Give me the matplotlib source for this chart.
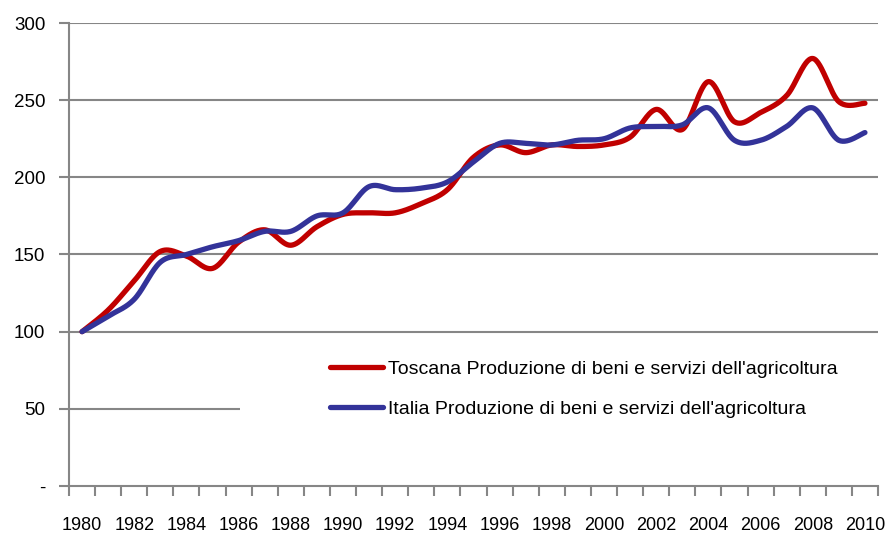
import numpy as np
import matplotlib
matplotlib.use("Agg")
import matplotlib.pyplot as plt
from matplotlib.patches import Rectangle
from matplotlib.ticker import FixedLocator, FixedFormatter

years = list(range(1980, 2011))
toscana = [100, 114, 133, 152, 149, 141, 158, 166, 156, 168, 176, 177, 177, 183, 192,
           213, 221, 216, 221, 220, 221, 226, 244, 231, 262, 236, 242, 253, 277, 249, 248]
italia = [100, 110, 121, 145, 150, 155, 159, 165, 165, 175, 177, 194, 192, 193, 197,
          210, 222, 222, 221, 224, 225, 232, 233, 234, 245, 224, 224, 233, 245, 224, 229]
label_t = "Toscana Produzione di beni e servizi dell'agricoltura"
label_i = "Italia Produzione di beni e servizi dell'agricoltura"
yticks = [0, 50, 100, 150, 200, 250, 300]
ytick_labels = ["-", "50", "100", "150", "200", "250", "300"]

plt.rcParams['font.family'] = ['Liberation Sans', 'DejaVu Sans']


def smooth(y, n=30):
    """Catmull-Rom (Excel-like) smoothing through the given points."""
    y = np.asarray(y, float)
    x = np.arange(len(y), dtype=float)
    P = np.column_stack([x, y])
    out = []
    for i in range(len(P) - 1):
        p0 = P[i - 1] if i > 0 else P[i]
        p1 = P[i]
        p2 = P[i + 1]
        p3 = P[i + 2] if i + 2 < len(P) else P[i + 1]
        c1 = p1 + (p2 - p0) / 6.0
        c2 = p2 - (p3 - p1) / 6.0
        t = np.linspace(0, 1, n, endpoint=(i == len(P) - 2))[:, None]
        seg = ((1 - t) ** 3) * p1 + 3 * ((1 - t) ** 2) * t * c1 + 3 * (1 - t) * t ** 2 * c2 + t ** 3 * p2
        out.append(seg)
    S = np.vstack(out)
    return S[:, 0], S[:, 1]


fig = plt.figure(figsize=(8.88, 5.35), dpi=100)
W, H = 888, 535
L, R, T, B = 69, 878, 23, 486
ax = fig.add_axes([L / W, 1 - B / H, (R - L) / W, (B - T) / H])

ax.set_xlim(-0.5, len(years) - 0.5)
ax.set_ylim(0, 300)

grid_c = '#868686'
ax.set_axisbelow(True)
for v in yticks[1:]:
    ax.axhline(v, color=grid_c, lw=1.5, zorder=0.5)

# white legend backdrop (covers grid)
ax.add_patch(Rectangle((0.211, 0.075), 0.80, 0.235, transform=ax.transAxes,
                       facecolor='white', edgecolor='none', zorder=1, clip_on=False))

xs, ys = smooth(toscana)
ax.plot(xs, ys, color='#c00000', lw=3.8, solid_capstyle='round', zorder=3, label=label_t)
xs, ys = smooth(italia)
ax.plot(xs, ys, color='#333399', lw=3.8, solid_capstyle='round', zorder=4, label=label_i)

for s in ['top', 'right']:
    ax.spines[s].set_visible(False)
for s in ['left', 'bottom']:
    ax.spines[s].set_color(grid_c)
    ax.spines[s].set_linewidth(1.5)

ax.yaxis.set_major_locator(FixedLocator(yticks))
ax.yaxis.set_major_formatter(FixedFormatter(ytick_labels))
ax.tick_params(axis='y', length=7, width=1.5, color=grid_c, pad=10, labelsize=13.5)

idx = list(range(0, len(years), 2))
ax.xaxis.set_major_locator(FixedLocator(idx))
ax.xaxis.set_major_formatter(FixedFormatter([str(years[i]) for i in idx]))
ax.xaxis.set_minor_locator(FixedLocator(np.arange(-0.5, len(years), 1.0)))
ax.tick_params(axis='x', which='major', length=0, pad=22, labelsize=13)
ax.tick_params(axis='x', which='minor', length=7, width=1.5, color=grid_c)

ax.legend(loc='upper left', bbox_to_anchor=((330 - L) / (R - L), (B - 360) / (B - T)),
          frameon=False, borderpad=0, borderaxespad=0, handlelength=2.7,
          handletextpad=0.26, labelspacing=1.15, fontsize=14)

fig.savefig('out.png', dpi=100)
